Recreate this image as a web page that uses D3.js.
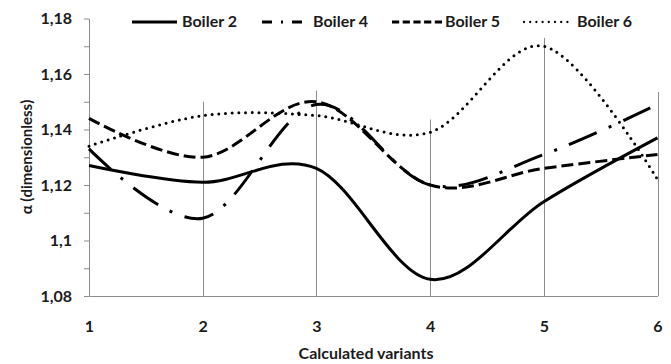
<!DOCTYPE html>
<html>
<head>
<meta charset="utf-8">
<script src="https://cdn.jsdelivr.net/npm/d3@7"></script>
<style>
  body { margin: 0; background: #fff; }
  svg { display: block; font-family: Lato, "Noto Sans", sans-serif; font-weight: bold; }
  text { fill: #1b1b1b; }
</style>
</head>
<body>
<svg width="671" height="364"></svg>
<script>
// data
const variants = [1, 2, 3, 4, 5, 6];
const boiler2 = [1.127, 1.121, 1.126, 1.086, 1.114, 1.137];
const boiler4 = [1.133, 1.108, 1.149, 1.120, 1.131, 1.149];
const boiler5 = [1.144, 1.130, 1.150, 1.120, 1.126, 1.131];
const boiler6 = [1.134, 1.145, 1.145, 1.139, 1.170, 1.122];
// tops of the vertical drop lines at variants 2..6
const dropVariants = [2, 3, 4, 5, 6];
const dropTops = [1.150, 1.154, 1.1436, 1.173, 1.1535];
const yTicks = [1.08, 1.09, 1.10, 1.11, 1.12, 1.13, 1.14, 1.15, 1.16, 1.17, 1.18];
const yLabelled = [1.08, 1.10, 1.12, 1.14, 1.16, 1.18];

const series = [
  { name: 'Boiler 2', values: boiler2, dash: null, cap: 'butt', legDash: null, legCap: 'butt', legW: 3, lx: 132, lw: 45, tx: 182 },
  { name: 'Boiler 4', values: boiler4, dash: '30,13,3,13', cap: 'butt', legDash: '10,9,2,9,10', legCap: 'butt', legW: 3, lx: 262, lw: 40, tx: 313 },
  { name: 'Boiler 5', values: boiler5, dash: '12,5', cap: 'butt', legDash: '7.2,3.5', legCap: 'butt', legW: 3, lx: 392, lw: 50, tx: 445 },
  { name: 'Boiler 6', values: boiler6, dash: '0,6.7', cap: 'round', legDash: '0,6.2', legCap: 'round', legW: 2.3, lx: 524, lw: 44, tx: 577 }
];

const svg = d3.select('svg');
const axisColor = '#8c8c8c';

const x = d3.scaleLinear().domain([1, 6]).range([89, 657.5]);
const y = d3.scaleLinear().domain([1.08, 1.18]).range([296, 18.5]);

const fmt = v => (+v.toFixed(2)).toString().replace('.', ',');

// vertical drop lines
svg.append('g').selectAll('line')
  .data(dropVariants)
  .join('line')
    .attr('x1', d => Math.round(x(d)) + 0.5)
    .attr('x2', d => Math.round(x(d)) + 0.5)
    .attr('y1', (d, i) => y(dropTops[i]))
    .attr('y2', y(1.08))
    .attr('stroke', axisColor)
    .attr('stroke-width', 1);

// left axis
const yAxis = svg.append('g')
  .attr('transform', 'translate(89,0)')
  .call(d3.axisLeft(y)
    .tickValues(yTicks)
    .tickSize(5)
    .tickSizeOuter(0)
    .tickPadding(12)
    .tickFormat(d => yLabelled.some(v => Math.abs(v - d) < 1e-9) ? fmt(d) : ''));
yAxis.selectAll('path, line').attr('stroke', axisColor);
yAxis.selectAll('text').attr('font-size', 16).attr('font-family', 'Lato, sans-serif').attr('fill', '#1b1b1b');

// bottom axis
const xAxis = svg.append('g')
  .attr('transform', 'translate(0,296)')
  .call(d3.axisBottom(x)
    .tickValues(variants)
    .tickSize(0)
    .tickPadding(25)
    .tickFormat(d3.format('d')));
xAxis.selectAll('path, line').attr('stroke', axisColor);
xAxis.selectAll('text').attr('font-size', 16).attr('font-family', 'Lato, sans-serif').attr('fill', '#1b1b1b');

// curves
const line = d3.line()
  .x((d, i) => x(variants[i]))
  .y(d => y(d))
  .curve(d3.curveCardinal.tension(0));

svg.append('g').selectAll('path')
  .data(series)
  .join('path')
    .attr('d', d => line(d.values))
    .attr('fill', 'none')
    .attr('stroke', '#000')
    .attr('stroke-width', 3)
    .attr('stroke-linecap', d => d.cap)
    .attr('stroke-dasharray', d => d.dash);

// legend
const leg = svg.append('g');
leg.selectAll('line')
  .data(series)
  .join('line')
    .attr('x1', d => d.lx)
    .attr('x2', d => d.lx + d.lw)
    .attr('y1', 22)
    .attr('y2', 22)
    .attr('stroke', '#000')
    .attr('stroke-width', d => d.legW)
    .attr('stroke-linecap', d => d.legCap)
    .attr('stroke-dasharray', d => d.legDash);
leg.selectAll('text')
  .data(series)
  .join('text')
    .attr('x', d => d.tx)
    .attr('y', 27)
    .attr('font-size', 16)
    .text(d => d.name);

// axis titles
svg.append('text')
  .attr('x', 366)
  .attr('y', 359)
  .attr('text-anchor', 'middle')
  .attr('font-size', 16)
  .text('Calculated variants');

svg.append('text')
  .attr('transform', 'translate(32,157) rotate(-90)')
  .attr('text-anchor', 'middle')
  .attr('font-size', 15)
  .text('α (dimensionless)');
</script>
</body>
</html>
